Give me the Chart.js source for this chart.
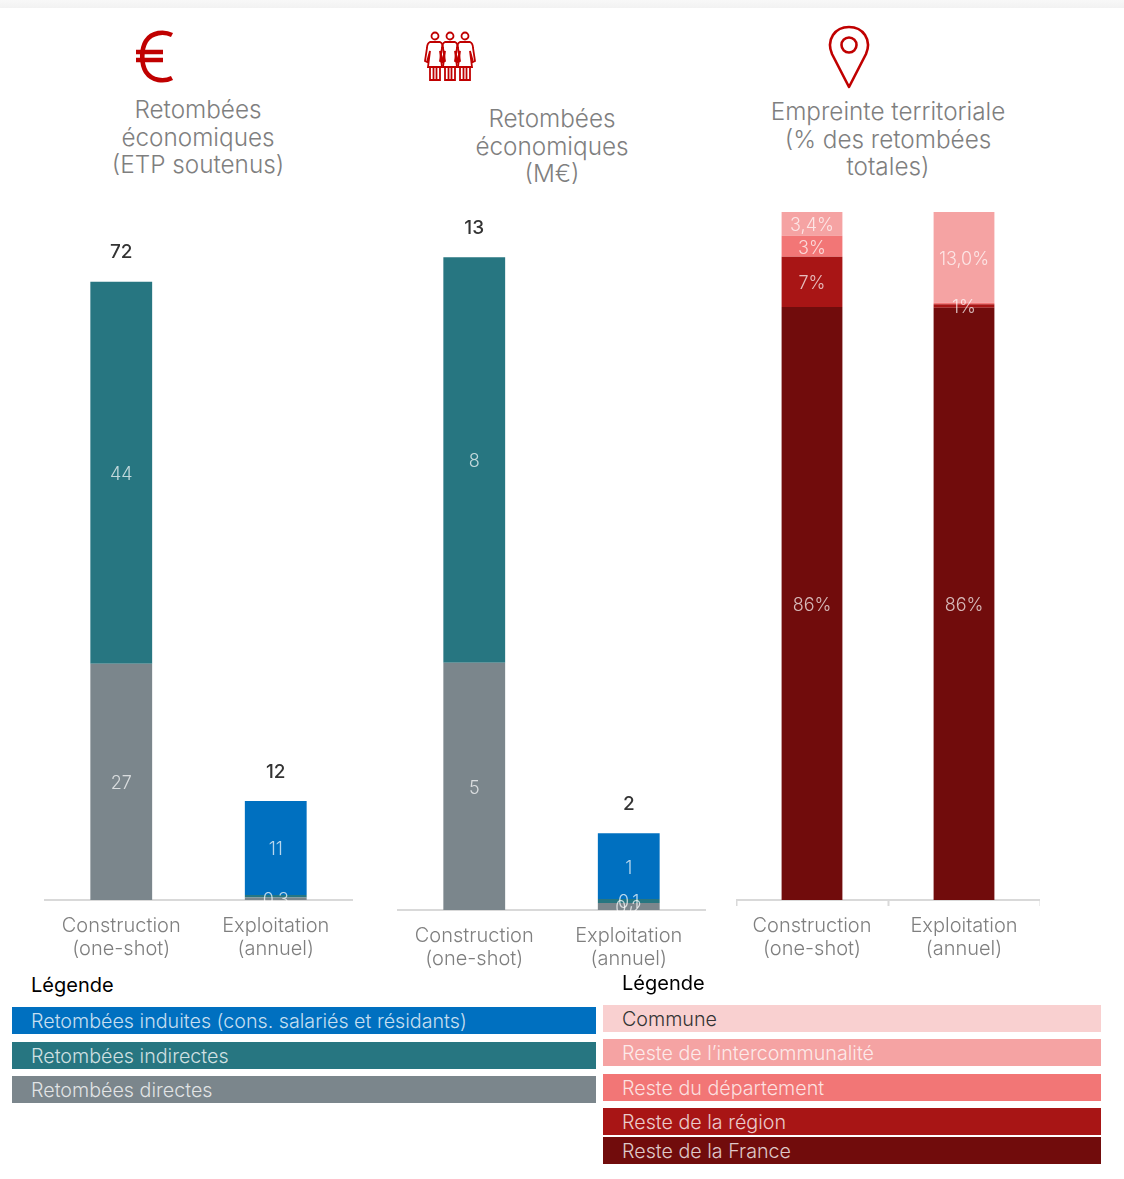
<!DOCTYPE html>
<html>
<head>
<meta charset="utf-8">
<script src="https://cdn.jsdelivr.net/npm/chart.js@4"></script>
<style>
body { margin: 0; background: #fff; font-family: Inter, "Open Sans", sans-serif; font-weight: 300; }
#page { position: relative; width: 1124px; height: 1179px; overflow: hidden; }
#topbar { position: absolute; left: 0; top: 0; width: 1124px; height: 8px; background: linear-gradient(#f8f8f8, #f2f2f2); }
.box { position: absolute; }
.title { position: absolute; width: 300px; text-align: center; color: #7f7f7f; font-size: 24.3px; line-height: 27.5px; }
.icon { position: absolute; }
.legendTitle { position: absolute; color: #000; font-size: 20px; font-weight: 400; line-height: 24px; }
.row { position: absolute; height: 27px; line-height: 28px; font-size: 19.7px; box-sizing: border-box; color: rgba(255,255,255,.78); white-space: nowrap; }
</style>
</head>
<body>
<div id="page">
  <div id="topbar"></div>

  <svg class="icon" style="left:134px;top:30px" width="42" height="54" viewBox="0 0 42 54" fill="none" stroke="#c00000" stroke-width="4.6">
    <path d="M38 5 C 30 1, 18 2, 12 11 C 7 19, 7 34, 12 42 C 18 51, 30 52, 38 48"/>
    <path d="M2 22 H29 M2 30 H29"/>
  </svg>

  <svg class="icon" style="left:424px;top:31px" width="52" height="51" viewBox="0 0 52 51" fill="none" stroke="#c00000" stroke-width="1.8">
    <g id="fig">
      <circle cx="11" cy="5" r="3.5"/>
      <path d="M6 11 C 4 12, 3 14, 3 17 L 1 30 L 3 31 L 6 20 L 4 36 H 18 L 16 20 L 19 31 L 21 30 L 19 17 C 19 14, 18 12, 16 11 Z"/>
      <path d="M6 36 V49 H16 V36 M9.5 36 V49 M12.5 36 V49"/>
    </g>
    <use href="#fig" x="15"/>
    <use href="#fig" x="30"/>
  </svg>

  <svg class="icon" style="left:828px;top:25px" width="42" height="66" viewBox="0 0 42 66" fill="none" stroke="#c00000" stroke-width="2.6">
    <path d="M21 62 L 4 29 C 1 22, 1 16, 5 10 C 9 4, 15 2, 21 2 C 27 2, 33 4, 37 10 C 41 16, 41 22, 38 29 Z" stroke-linejoin="round"/>
    <circle cx="21" cy="20" r="7.5"/>
  </svg>

  <div class="title" style="left:48px;top:96px">Retombées<br>économiques<br>(ETP soutenus)</div>
  <div class="title" style="left:402px;top:105px">Retombées<br>économiques<br>(M€)</div>
  <div class="title" style="left:738px;top:98px">Empreinte territoriale<br>(% des retombées<br>totales)</div>

  <div class="box" style="left:44px;top:213px;width:309px;height:758px"><canvas id="etpChart"></canvas></div>
  <div class="box" style="left:397px;top:208px;width:309px;height:773px"><canvas id="meurChart"></canvas></div>
  <div class="box" style="left:736px;top:212px;width:304px;height:759px"><canvas id="terrChart"></canvas></div>

  <div class="legendTitle" style="left:31px;top:973px">Légende</div>
  <div class="legendTitle" style="left:622px;top:971px">Légende</div>
  <div id="legendLeft"></div>
  <div id="legendRight"></div>
</div>

<script>
const categories = [["Construction", "(one-shot)"], ["Exploitation", "(annuel)"]];

const BLUE = "#0070c0", TEAL = "#277681", GREY = "#7b868c";
const PALE = "#f9d0d0", PINK = "#f5a3a3", CORAL = "#f27676", RED = "#a81515", DARK = "#710c0c";

// chart 1, ETP
const etpDirectes = [27.5, 0.28];
const etpIndirectes = [44.5, 0.3];
const etpInduites = [0, 10.95];
const etpDirectesLabels = ["27", "0,3"];
const etpIndirectesLabels = ["44", ""];
const etpInduitesLabels = ["", "11"];
const etpTotals = ["72", "12"];

// chart 2, M€
const meurDirectes = [4.93, 0.14];
const meurIndirectes = [8.09, 0.08];
const meurInduites = [0, 1.31];
const meurDirectesLabels = ["5", "0,2"];
const meurIndirectesLabels = ["8", "0,1"];
const meurInduitesLabels = ["", "1"];
const meurTotals = ["13", "2"];

// chart 3, %
const terrFrance = [86.2, 86.1];
const terrRegion = [7.3, 0.5];
const terrDepartement = [3.05, 0.2];
const terrInterco = [3.45, 13.2];
const terrCommune = [0, 0];
const terrFranceLabels = ["86%", "86%"];
const terrRegionLabels = ["7%", "1%"];
const terrDepartementLabels = ["3%", ""];
const terrIntercoLabels = ["3,4%", "13,0%"];

const legendLeft = ["Retombées induites (cons. salariés et résidants)", "Retombées indirectes", "Retombées directes"];
const legendLeftColors = [BLUE, TEAL, GREY];
const legendRight = ["Commune", "Reste de l’intercommunalité", "Reste du département", "Reste de la région", "Reste de la France"];
const legendRightColors = [PALE, PINK, CORAL, RED, DARK];

const FONT = "Inter, 'Open Sans', sans-serif";

// writes the value text in each segment, and the total above the stack
const barLabels = {
    id: "barLabels",
    afterDatasetsDraw(chart, args, opts) {
        const ctx = chart.ctx;
        ctx.save();
        ctx.textAlign = "center";
        ctx.textBaseline = "middle";
        ctx.font = "300 18px " + FONT;
        ctx.fillStyle = "rgba(255,255,255,.72)";
        chart.data.datasets.forEach(function (ds, i) {
            chart.getDatasetMeta(i).data.forEach(function (bar, j) {
                if (ds.labels && ds.labels[j]) {
                    ctx.fillText(ds.labels[j], bar.x, (bar.y + bar.base) / 2 + 2);
                }
            });
        });
        if (opts.totals) {
            const tops = chart.getDatasetMeta(chart.data.datasets.length - 1).data;
            ctx.font = "500 19px " + FONT;
            ctx.fillStyle = "#333";
            opts.totals.forEach(function (t, j) {
                ctx.fillText(t, tops[j].x, tops[j].y - 29);
            });
        }
        ctx.restore();
    }
};

function stacked(id, datasets, yMax, totals, withTicks) {
    new Chart(document.getElementById(id), {
        type: "bar",
        plugins: [barLabels],
        data: {
            labels: categories,
            datasets: datasets.map(function (d) {
                return {
                    data: d[0], backgroundColor: d[1], labels: d[2],
                    barPercentage: 0.4, categoryPercentage: 1,
                    borderWidth: 0
                };
            })
        },
        options: {
            responsive: true,
            maintainAspectRatio: false,
            animation: false,
            layout: { padding: 0 },
            plugins: {
                legend: { display: false },
                title: { display: false },
                tooltip: { enabled: false },
                barLabels: { totals: totals }
            },
            scales: {
                x: {
                    stacked: true,
                    afterFit: function (s) { s.height = 71; },
                    border: { display: true, color: "#d9d9d9", width: 2 },
                    grid: {
                        display: withTicks, drawOnChartArea: false, drawTicks: withTicks,
                        tickLength: 6, tickColor: "#d9d9d9", tickWidth: 2, offset: true
                    },
                    ticks: {
                        color: "#7f7f7f", font: { family: FONT, size: 20, weight: 300, lineHeight: 1.15 },
                        padding: withTicks ? 8 : 14, maxRotation: 0, autoSkip: false
                    }
                },
                y: { stacked: true, display: false, min: 0, max: yMax }
            }
        }
    });
}

stacked("etpChart", [
    [etpDirectes, GREY, etpDirectesLabels],
    [etpIndirectes, TEAL, etpIndirectesLabels],
    [etpInduites, BLUE, etpInduitesLabels]
], 80, etpTotals, false);

stacked("meurChart", [
    [meurDirectes, GREY, meurDirectesLabels],
    [meurIndirectes, TEAL, meurIndirectesLabels],
    [meurInduites, BLUE, meurInduitesLabels]
], 14, meurTotals, false);

stacked("terrChart", [
    [terrFrance, DARK, terrFranceLabels],
    [terrRegion, RED, terrRegionLabels],
    [terrDepartement, CORAL, terrDepartementLabels],
    [terrInterco, PINK, terrIntercoLabels],
    [terrCommune, PALE, null]
], 100, null, true);

function drawLegend(id, names, colors, left, width, tops) {
    const holder = document.getElementById(id);
    names.forEach(function (name, i) {
        const el = document.createElement("div");
        el.className = "row";
        el.textContent = name;
        el.style.left = left + "px";
        el.style.width = width + "px";
        el.style.top = tops[i] + "px";
        el.style.paddingLeft = "19px";
        el.style.background = colors[i];
        if (name === "Commune") el.style.color = "#333";
        holder.appendChild(el);
    });
}
drawLegend("legendLeft", legendLeft, legendLeftColors, 12, 584, [1007, 1042, 1076]);
drawLegend("legendRight", legendRight, legendRightColors, 603, 498, [1005, 1039, 1074, 1108, 1137]);
</script>
</body>
</html>
